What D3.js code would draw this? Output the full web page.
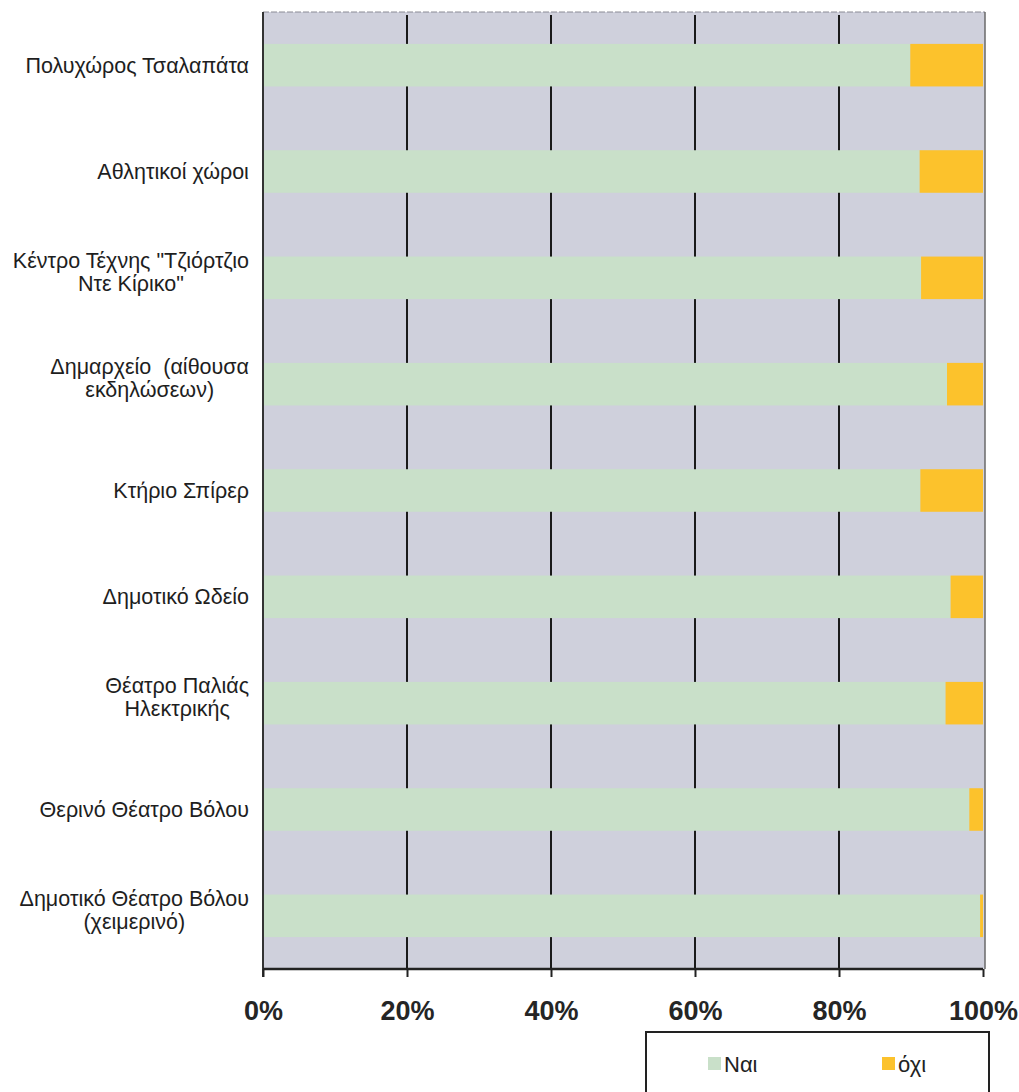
<!DOCTYPE html>
<html><head><meta charset="utf-8">
<script src="https://cdn.jsdelivr.net/npm/d3@7"></script>
<style>body{margin:0;background:#fff;} svg{display:block;} text{white-space:pre;}</style>
</head><body>
<svg id="c" width="1019" height="1092"></svg>
<script>
const categories = [
  ["Πολυχώρος Τσαλαπάτα"],
  ["Αθλητικοί χώροι"],
  ["Κέντρο Τέχνης \"Τζιόρτζιο", "Ντε Κίρικο\""],
  ["Δημαρχείο  (αίθουσα", "εκδηλώσεων)"],
  ["Κτήριο Σπίρερ"],
  ["Δημοτικό Ωδείο"],
  ["Θέατρο Παλιάς", "Ηλεκτρικής"],
  ["Θερινό Θέατρο Βόλου"],
  ["Δημοτικό Θέατρο Βόλου", "(χειμερινό)"]
];
const naiValues = [89.9, 91.2, 91.4, 95.0, 91.3, 95.5, 94.8, 98.1, 99.6];
const oxiValues = [10.1, 8.8, 8.6, 5.0, 8.7, 4.5, 5.2, 1.9, 0.4];
const seriesNames = ["Ναι", "όχι"];
const tickValues = [0, 20, 40, 60, 80, 100];
const tickLabels = ["0%", "20%", "40%", "60%", "80%", "100%"];

const colors = ["#c9e0c9", "#fcc22c"];
const svg = d3.select("#c");
const L = 263, R = 983, T = 12, B = 969;
const FONT = "Liberation Sans, Arial, sans-serif";

const x = d3.scaleLinear().domain([0, 100]).range([L, R]);
const y = d3.scaleBand().domain(d3.range(categories.length)).range([T, B]).paddingInner(0.6).paddingOuter(0.3);

// background
svg.append("rect").attr("x", L).attr("y", T).attr("width", R - L + 2).attr("height", B - T)
  .attr("fill", "#cfd0dc");
svg.append("line").attr("x1", L).attr("x2", R + 2).attr("y1", T).attr("y2", T)
  .attr("stroke", "#8a8a95").attr("stroke-width", 1).attr("stroke-dasharray", "6,2");
svg.append("line").attr("x1", R + 2).attr("x2", R + 2).attr("y1", T).attr("y2", B)
  .attr("stroke", "#6a6a6a").attr("stroke-width", 1.5);

// gridlines
svg.append("g").selectAll("line").data(tickValues.slice(1, -1)).join("line")
  .attr("x1", d => x(d)).attr("x2", d => x(d)).attr("y1", T + 3).attr("y2", B)
  .attr("stroke", "#1a1a1a").attr("stroke-width", 2);

// stacked bars
const stackData = categories.map((c, i) => ({i, nai: naiValues[i], oxi: oxiValues[i]}));
const stack = d3.stack().keys(["nai", "oxi"])(stackData);
svg.append("g").selectAll("g").data(stack).join("g")
  .attr("fill", (d, k) => colors[k])
  .selectAll("rect").data(d => d).join("rect")
  .attr("x", d => x(d[0])).attr("width", d => x(d[1]) - x(d[0]))
  .attr("y", d => y(d.data.i)).attr("height", y.bandwidth());

// left axis line
svg.append("line").attr("x1", L).attr("x2", L).attr("y1", T).attr("y2", B + 8)
  .attr("stroke", "#333").attr("stroke-width", 2);

// bottom axis
const xAxis = d3.axisBottom(x).tickValues(tickValues).tickFormat((d, i) => tickLabels[i]).tickSize(8).tickPadding(24);
const gx = svg.append("g").attr("transform", `translate(0,${B})`).call(xAxis);
gx.select(".domain").attr("stroke", "#222").attr("stroke-width", 2.5).attr("d", `M${L},0H${R}`);
gx.selectAll(".tick line").attr("stroke", "#222").attr("stroke-width", 2);
gx.selectAll(".tick text").attr("font-family", FONT)
  .attr("font-size", 27).attr("font-weight", "bold").attr("fill", "#252525");

// category labels
const lg = svg.append("g").attr("font-family", FONT)
  .attr("font-size", 21.5).attr("fill", "#1e1e1e");
categories.forEach((lines, i) => {
  const cy = y(i) + y.bandwidth() / 2;
  const lh = 23;
  const g = lg.append("g");
  const t = g.append("text").attr("text-anchor", "middle");
  lines.forEach((ln, j) => {
    t.append("tspan").attr("x", 0).attr("y", cy + (j - (lines.length - 1) / 2) * lh - (lines.length > 1 ? 6 : 0))
      .attr("dy", "0.35em").text(ln);
  });
  const w = t.node().getBBox().width;
  g.attr("transform", `translate(${249 - w / 2},0)`);
});

// legend
const leg = svg.append("g");
leg.append("rect").attr("x", 646).attr("y", 1032).attr("width", 343).attr("height", 80)
  .attr("fill", "#fff").attr("stroke", "#222").attr("stroke-width", 2);
const legItems = [{x: 708, name: seriesNames[0], c: colors[0]}, {x: 882, name: seriesNames[1], c: colors[1]}];
legItems.forEach(d => {
  leg.append("rect").attr("x", d.x).attr("y", 1057).attr("width", 13).attr("height", 13).attr("fill", d.c);
  leg.append("text").attr("x", d.x + 16).attr("y", 1064).attr("dy", "0.35em")
    .attr("font-family", FONT).attr("font-size", 22).attr("fill", "#222").text(d.name);
});
</script>
</body></html>
